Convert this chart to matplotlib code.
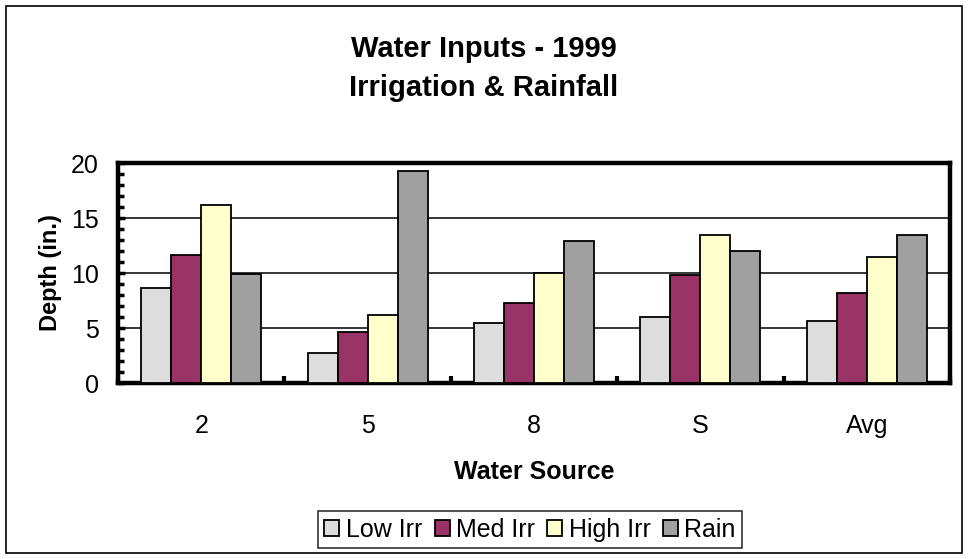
import matplotlib.pyplot as plt
import numpy as np
from matplotlib.patches import Rectangle

plt.rcParams['font.family'] = ['Liberation Sans', 'DejaVu Sans']

sources = ["2", "5", "8", "S", "Avg"]
low_irr = [8.6, 2.7, 5.5, 6.0, 5.6]
med_irr = [11.6, 4.6, 7.3, 9.8, 8.2]
high_irr = [16.2, 6.2, 10.0, 13.5, 11.5]
rain = [9.9, 19.3, 12.9, 12.0, 13.5]

series = [("Low Irr", low_irr, "#dddddd"),
          ("Med Irr", med_irr, "#993366"),
          ("High Irr", high_irr, "#ffffcc"),
          ("Rain", rain, "#a0a0a0")]

fig = plt.figure(figsize=(9.68, 5.59), dpi=100)
fig.patches.append(Rectangle((0.006, 0.01), 0.988, 0.98, transform=fig.transFigure,
                             fill=False, edgecolor="black", linewidth=1.2))

ax = fig.add_axes([0.1219, 0.3148, 0.8595, 0.3936])
x = np.arange(len(sources))
w = 0.18
for i, (name, vals, col) in enumerate(series):
    ax.bar(x + (i - 1.5) * w, vals, w, color=col, edgecolor="black",
           linewidth=1.3, label=name, zorder=3)

ax.set_xlim(-0.5, 4.5)
ax.set_ylim(0, 20)
ax.set_yticks([0, 5, 10, 15, 20])
ax.set_yticks(np.arange(0, 21, 1), minor=True)
ax.set_xticks(x)
ax.set_xticklabels(sources)
ax.set_xticks(np.arange(-0.5, 4.6, 1), minor=True)
ax.tick_params(axis="both", which="major", labelsize=18, length=0, pad=22)
ax.tick_params(axis="y", which="major", direction="in", length=5, width=2.5, pad=14)
ax.tick_params(axis="y", which="minor", direction="in", length=4, width=2.5)
ax.tick_params(axis="x", which="minor", direction="in", length=5, width=3)
for yv in [5, 10, 15]:
    ax.axhline(yv, color="black", linewidth=1.1, zorder=1)
for s in ax.spines.values():
    s.set_linewidth(3.2)

ax.set_xlabel("Water Source", fontsize=18, fontweight="bold", labelpad=16)
ax.set_ylabel("Depth (in.)", fontsize=17, fontweight="bold", labelpad=6)

fig.text(0.5, 0.912, "Water Inputs - 1999", ha="center", va="center",
         fontsize=21, fontweight="bold")
fig.text(0.5, 0.843, "Irrigation & Rainfall", ha="center", va="center",
         fontsize=21, fontweight="bold")

leg = fig.legend(loc="center", bbox_to_anchor=(0.5475, 0.0525), ncol=4, fontsize=18,
                 frameon=True, fancybox=False, edgecolor="black",
                 handlelength=0.6, handleheight=0.6, handletextpad=0.25,
                 columnspacing=0.5, borderpad=0.25, borderaxespad=0)
leg.get_frame().set_linewidth(1.2)

plt.savefig("out.png", dpi=100)
